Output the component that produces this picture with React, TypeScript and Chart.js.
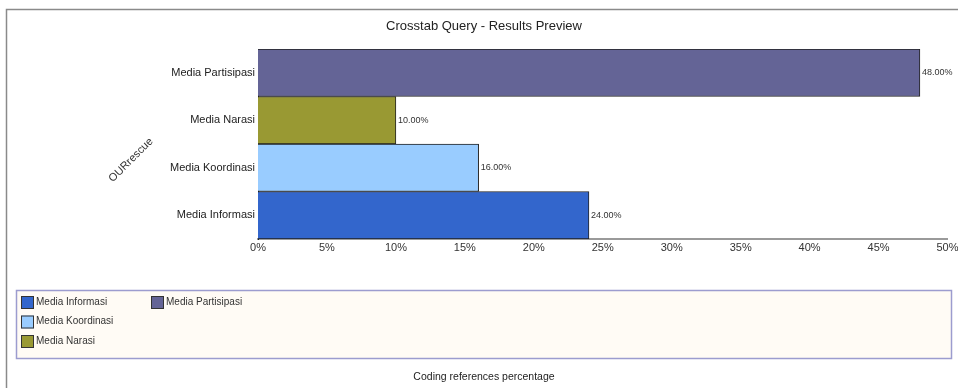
import React, { useEffect, useRef } from "react";
import { Chart, registerables } from "chart.js";

Chart.register(...registerables);

const TITLE = "Crosstab Query - Results Preview";
const Y_TITLE = "OURrescue";
const X_TITLE = "Coding references percentage";

const categories = ["Media Partisipasi", "Media Narasi", "Media Koordinasi", "Media Informasi"];
const values = [48, 10, 16, 24];
const barColors = ["#646496", "#999933", "#99CCFF", "#3366CC"];
const legendOrder = ["Media Informasi", "Media Koordinasi", "Media Narasi", "Media Partisipasi"];

const FONT = "'Liberation Sans', Arial, sans-serif";

const decorPlugin = {
  id: "decor",
  beforeDraw(chart: any) {
    const ctx = chart.ctx;
    ctx.save();
    ctx.fillStyle = "#ffffff";
    ctx.fillRect(0, 0, chart.width, chart.height);
    // outer frame
    ctx.strokeStyle = "#8a8a8a";
    ctx.lineWidth = 1.5;
    ctx.strokeRect(6.5, 9.5, 2000, 2000);
    // title
    ctx.fillStyle = "#222";
    ctx.font = `13px ${FONT}`;
    ctx.textAlign = "center";
    ctx.textBaseline = "middle";
    ctx.fillText(TITLE, 484, 26);
    // y title rotated
    ctx.save();
    ctx.translate(131, 160);
    ctx.rotate(-Math.PI / 4);
    ctx.font = `11px ${FONT}`;
    ctx.fillStyle = "#333";
    ctx.fillText(Y_TITLE, 0, 0);
    ctx.restore();
    // legend box
    ctx.fillStyle = "#fffbf5";
    ctx.fillRect(16, 290, 935, 68);
    ctx.strokeStyle = "#9c9ccf";
    ctx.lineWidth = 1.5;
    ctx.strokeRect(16.5, 290.5, 935, 68);
    // legend items (column-major, 3 rows)
    const labels: string[] = chart.data.labels;
    const colors: string[] = chart.data.datasets[0].backgroundColor;
    ctx.font = `10px ${FONT}`;
    ctx.textAlign = "left";
    legendOrder.forEach((name, i) => {
      const idx = labels.indexOf(name);
      const col = Math.floor(i / 3);
      const row = i % 3;
      const x = 21 + col * 130;
      const cy = 302 + row * 19.5;
      ctx.fillStyle = colors[idx];
      ctx.fillRect(x, cy - 6, 13, 13);
      ctx.strokeStyle = "#333";
      ctx.lineWidth = 1;
      ctx.strokeRect(x + 0.5, cy - 5.5, 12, 12);
      ctx.fillStyle = "#333";
      ctx.fillText(name, x + 15, cy);
    });
    // x title below legend
    ctx.textAlign = "center";
    ctx.font = `10.5px ${FONT}`;
    ctx.fillStyle = "#222";
    ctx.fillText(X_TITLE, 484, 377);
    ctx.restore();
  },
  afterDatasetsDraw(chart: any) {
    const ctx = chart.ctx;
    const meta = chart.getDatasetMeta(0);
    const data = chart.data.datasets[0].data;
    ctx.save();
    ctx.font = `9px ${FONT}`;
    ctx.fillStyle = "#333";
    ctx.textAlign = "left";
    ctx.textBaseline = "middle";
    meta.data.forEach((el: any, i: number) => {
      ctx.fillText(Number(data[i]).toFixed(2) + "%", el.x + 2, el.y);
    });
    ctx.restore();
  },
};

export default function App() {
  const ref = useRef<HTMLCanvasElement>(null);
  useEffect(() => {
    if (!ref.current) return;
    const chart = new Chart(ref.current, {
      type: "bar",
      data: {
        labels: categories,
        datasets: [
          {
            data: values,
            backgroundColor: barColors,
            borderColor: "#222",
            borderWidth: 1,
            barPercentage: 1,
            categoryPercentage: 1,
          },
        ],
      },
      options: {
        indexAxis: "y",
        responsive: false,
        animation: false,
        layout: { padding: { left: 0, right: 10.5, top: 49, bottom: 129 } },
        plugins: { legend: { display: false }, tooltip: { enabled: false }, title: { display: false } },
        scales: {
          x: {
            min: 0,
            max: 50,
            ticks: {
              stepSize: 5,
              callback: (v: any) => v + "%",
              color: "#333",
              font: { family: FONT, size: 11 },
              padding: 2,
              maxRotation: 0,
            },
            grid: { display: false, drawTicks: false },
            border: { display: true, color: "#9a9a9a", width: 2 },
            afterFit: (s: any) => { s.height = 20; s.paddingRight = 0; s.paddingLeft = 0; },
          },
          y: {
            ticks: { color: "#222", font: { family: FONT, size: 11 }, padding: 3 },
            grid: { display: false, drawTicks: false },
            border: { display: true, color: "#222", width: 1 },
            afterFit: (s: any) => { s.width = 258; },
          },
        },
      },
      plugins: [decorPlugin],
    } as any);
    return () => chart.destroy();
  }, []);
  return (
    <div style={{ position: "absolute", left: 0, top: 0, width: 958, height: 388 }}>
      <canvas ref={ref} width={958} height={388} style={{ display: "block" }} />
    </div>
  );
}
